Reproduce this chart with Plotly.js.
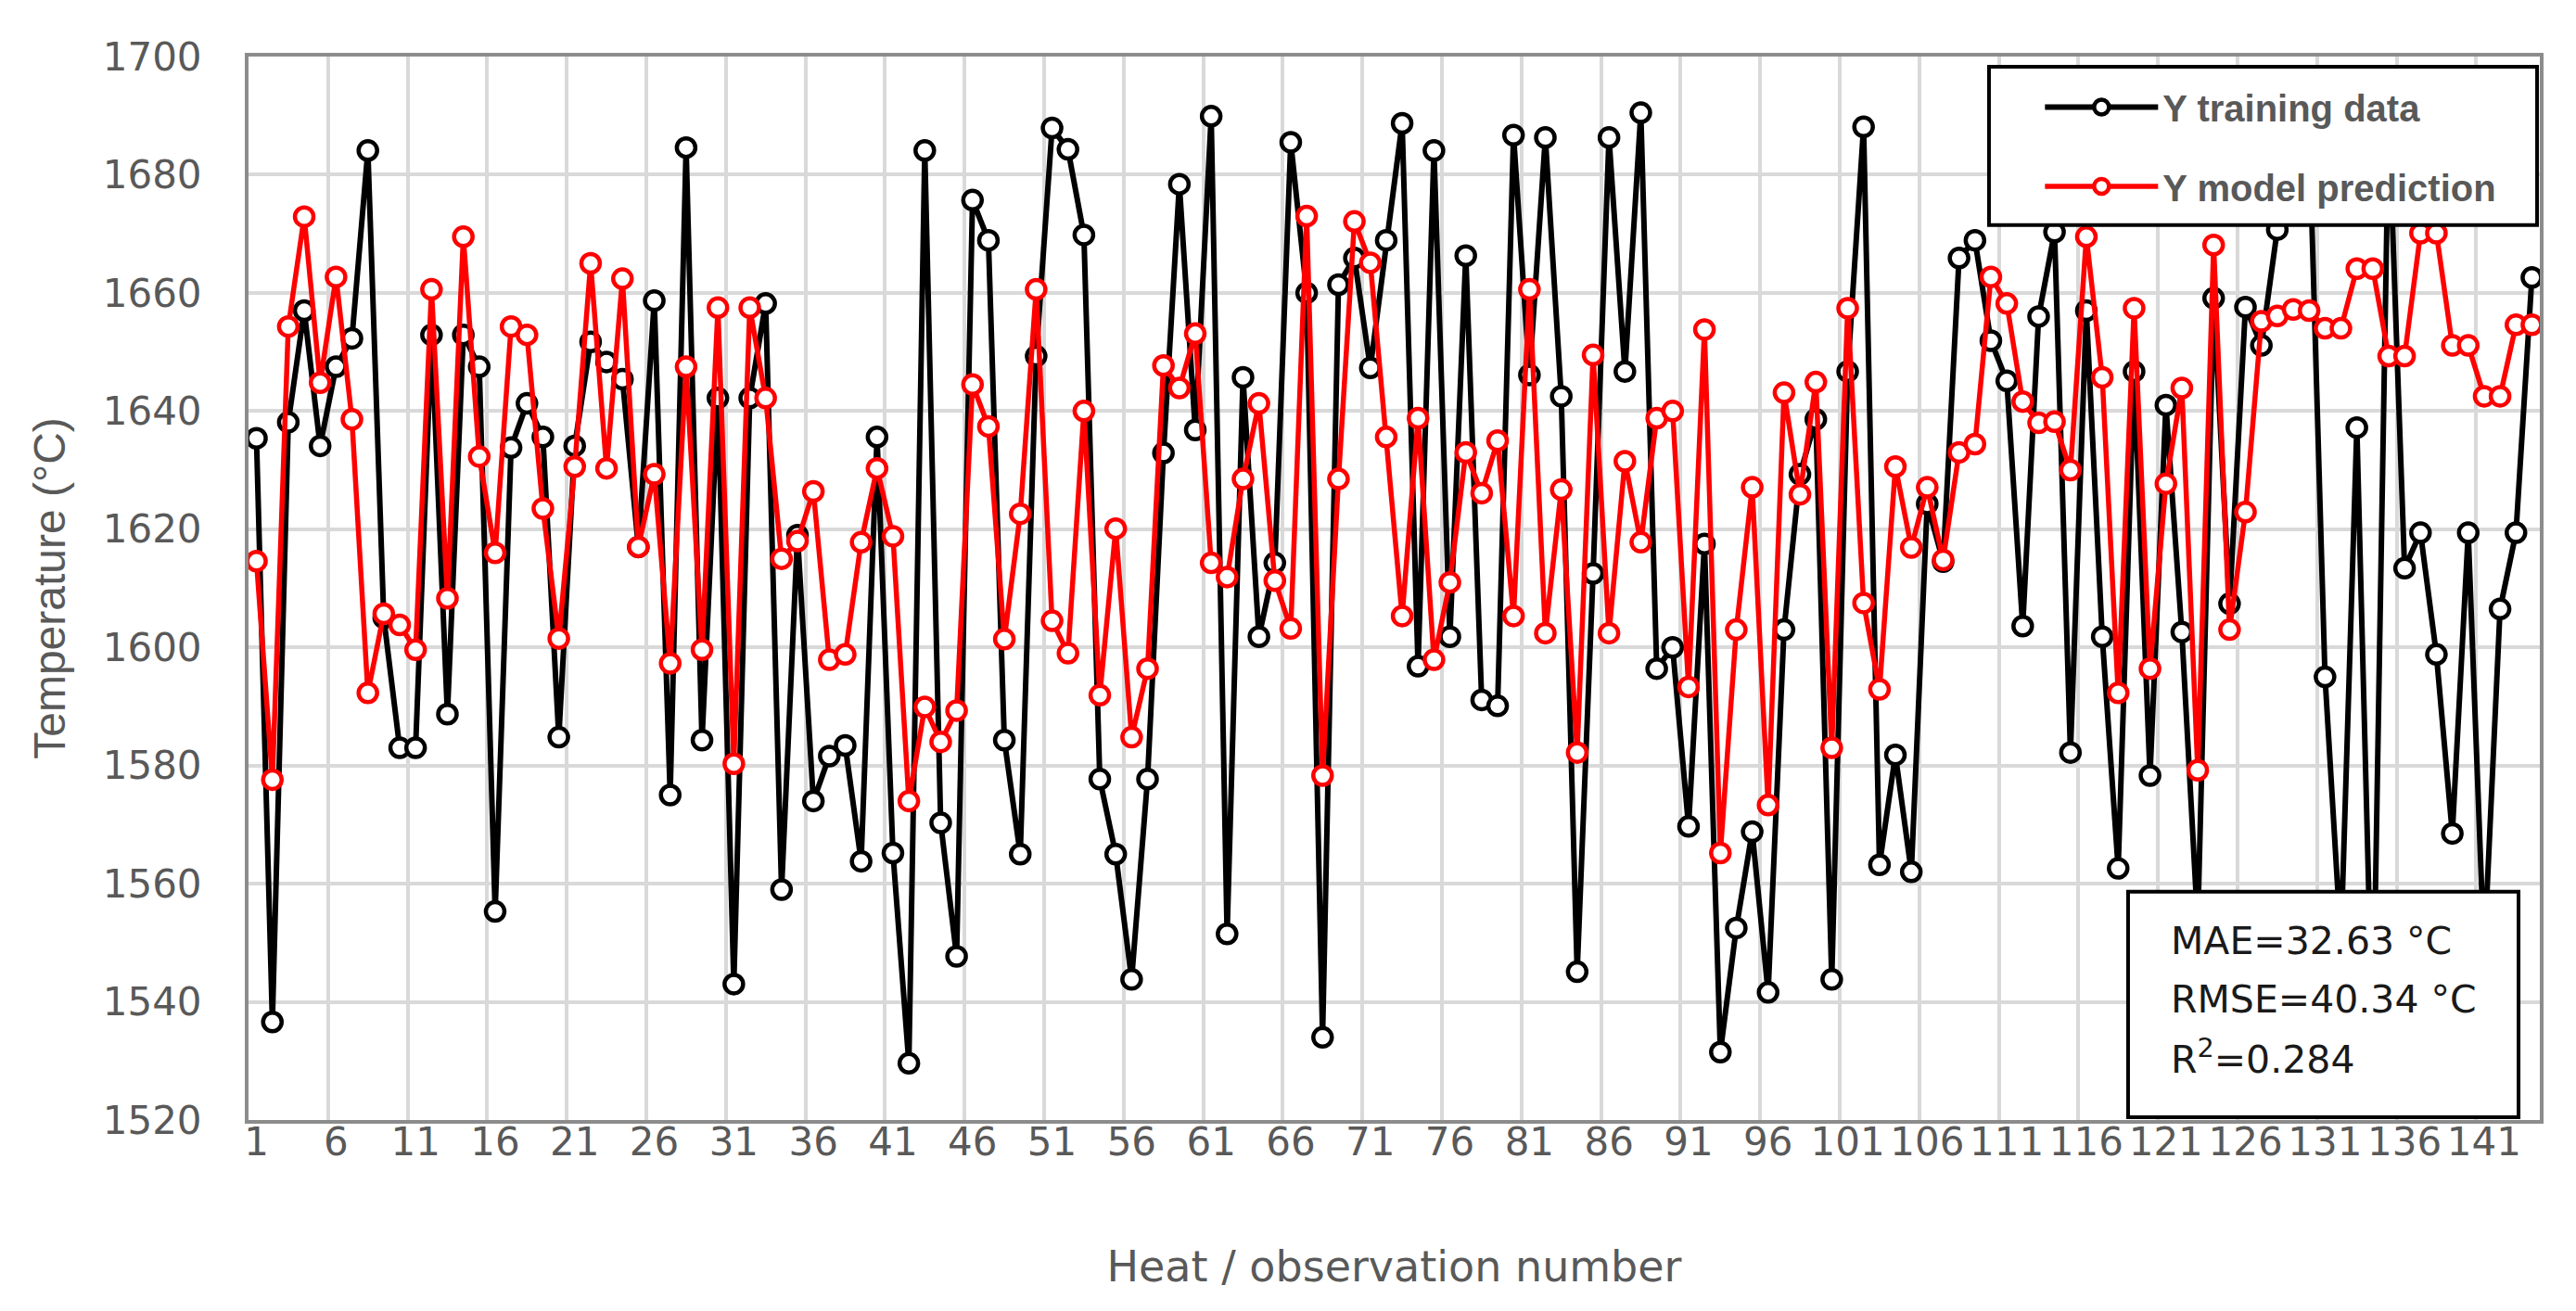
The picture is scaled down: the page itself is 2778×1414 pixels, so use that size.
<!DOCTYPE html>
<html>
<head>
<meta charset="utf-8">
<script src="https://cdn.plot.ly/plotly-3.0.1.min.js"></script>
<style>
  html, body { margin: 0; padding: 0; background: #fff; }
  #chart { width: 2778px; height: 1414px; }
</style>
</head>
<body>
<div id="chart"></div>
<script>
// heat / observation number 1..144
const heats = Array.from({ length: 144 }, (_, i) => i + 1);

const yTraining = [
  1635.4, 1536.6, 1638.1, 1657.0, 1634.1, 1647.5, 1652.3, 1684.1, 1605.0, 1583.0,
  1583.0, 1652.9, 1588.7, 1652.9, 1647.5, 1555.3, 1633.8, 1641.3, 1635.6, 1584.8,
  1634.1, 1651.7, 1648.3, 1645.4, 1617.0, 1658.7, 1575.0, 1684.6, 1584.3, 1642.2,
  1543.0, 1642.2, 1658.2, 1559.0, 1619.0, 1574.0, 1581.6, 1583.4, 1563.8, 1635.6,
  1565.2, 1529.6, 1684.1, 1570.3, 1547.7, 1675.7, 1668.9, 1584.3, 1565.0, 1649.3,
  1687.9, 1684.3, 1669.8, 1577.7, 1565.0, 1543.8, 1577.7, 1632.9, 1678.4, 1636.8,
  1689.9, 1551.5, 1645.7, 1601.8, 1614.3, 1685.5, 1660.0, 1534.0, 1661.4, 1665.9,
  1647.3, 1668.9, 1688.7, 1596.8, 1684.1, 1601.8, 1666.3, 1591.1, 1590.1, 1686.7,
  1646.1, 1686.3, 1642.5, 1545.1, 1612.5, 1686.3, 1646.7, 1690.5, 1596.4, 1600.0,
  1569.7, 1617.5, 1531.5, 1552.5, 1568.8, 1541.6, 1603.0, 1629.3, 1638.6, 1543.8,
  1646.7, 1688.1, 1563.2, 1581.8, 1562.0, 1624.3, 1614.5, 1665.9, 1668.9, 1651.9,
  1645.1, 1603.6, 1656.0, 1670.3, 1582.2, 1657.0, 1601.8, 1562.6, 1646.7, 1578.3,
  1641.0, 1602.6, 1553.0, 1659.1, 1607.4, 1657.6, 1651.1, 1670.7, 1684.0, 1688.0,
  1595.0, 1550.0, 1637.2, 1532.0, 1690.0, 1613.4, 1619.4, 1598.8, 1568.5, 1619.4,
  1548.0, 1606.5, 1619.4, 1662.6
];

const yPrediction = [
  1614.6, 1577.6, 1654.3, 1672.9, 1644.8, 1662.7, 1638.6, 1592.3, 1605.7, 1603.8,
  1599.6, 1660.6, 1608.3, 1669.5, 1632.3, 1616.0, 1654.3, 1652.9, 1623.5, 1601.5,
  1630.6, 1665.0, 1630.3, 1662.4, 1617.0, 1629.3, 1597.3, 1647.5, 1599.6, 1657.5,
  1580.3, 1657.5, 1642.2, 1615.0, 1618.0, 1626.4, 1597.9, 1598.8, 1617.8, 1630.3,
  1618.8, 1574.0, 1589.9, 1584.0, 1589.3, 1644.5, 1637.4, 1601.4, 1622.6, 1660.6,
  1604.5, 1599.0, 1640.0, 1591.9, 1620.1, 1584.8, 1596.4, 1647.7, 1643.9, 1653.1,
  1614.3, 1611.9, 1628.5, 1641.3, 1611.3, 1603.2, 1673.0, 1578.3, 1628.5, 1672.1,
  1665.1, 1635.6, 1605.3, 1638.8, 1597.9, 1611.0, 1633.0, 1626.1, 1635.0, 1605.3,
  1660.6, 1602.4, 1626.7, 1582.2, 1649.5, 1602.4, 1631.5, 1617.8, 1638.8, 1640.0,
  1593.3, 1653.8, 1565.2, 1603.0, 1627.1, 1573.3, 1643.1, 1625.9, 1644.9, 1583.0,
  1657.4, 1607.5, 1592.9, 1630.6, 1616.9, 1627.1, 1614.8, 1633.0, 1634.4, 1662.7,
  1658.2, 1641.6, 1638.0, 1638.2, 1630.0, 1669.5, 1645.7, 1592.3, 1657.4, 1596.4,
  1627.7, 1643.9, 1579.2, 1668.1, 1603.0, 1622.9, 1655.2, 1656.1, 1657.2, 1657.0,
  1654.0, 1654.0, 1664.1, 1664.1, 1649.3, 1649.3, 1670.1, 1670.1, 1651.1, 1651.1,
  1642.5, 1642.5, 1654.6, 1654.6
];

const statLines = ["MAE=32.63 °C", "RMSE=40.34 °C", "R<sup>2</sup>=0.284"];

const tickFont = { family: "DejaVu Sans, Verdana, sans-serif", size: 42, color: "#595959" };
const legendFont = { family: "Liberation Sans, Arial, sans-serif", size: 40, color: "#595959", weight: "bold" };

const markerStyle = (color) => ({
  symbol: "circle",
  size: 20,
  color: "#ffffff",
  line: { color: color, width: 4.5 },
});

Plotly.newPlot(
  "chart",
  [
    {
      name: "<b>Y training data</b>",
      x: heats,
      y: yTraining,
      type: "scatter",
      mode: "lines+markers",
      line: { color: "#000000", width: 6 },
      marker: markerStyle("#000000"),
      legend: "legend",
    },
    {
      name: "<b>Y model prediction</b>",
      x: heats,
      y: yPrediction,
      type: "scatter",
      mode: "lines+markers",
      line: { color: "#ff0000", width: 5.5 },
      marker: markerStyle("#ff0000"),
      legend: "legend2",
    },
  ],
  {
    width: 2778,
    height: 1414,
    margin: { l: 268, r: 39, t: 61, b: 206 },
    paper_bgcolor: "#ffffff",
    plot_bgcolor: "#ffffff",
    showlegend: true,
    xaxis: {
      range: [0.5, 144.5],
      tick0: 1,
      dtick: 5,
      tickangle: 0,
      ticks: "",
      ticklen: 0,
      ticklabelstandoff: -16,
      showgrid: false,
      zeroline: false,
      showline: true,
      mirror: true,
      linecolor: "#8c8c8c",
      linewidth: 4,
      tickfont: tickFont,
      minor: { tick0: 0.5, dtick: 5, showgrid: true, gridcolor: "#d9d9d9", gridwidth: 4 },
      title: {
        text: "Heat / observation number",
        font: { family: "DejaVu Sans, Verdana, sans-serif", size: 46, color: "#595959" },
        standoff: 95,
      },
    },
    yaxis: {
      range: [1520, 1700],
      dtick: 20,
      ticks: "",
      ticklen: 0,
      showgrid: true,
      gridcolor: "#d9d9d9",
      gridwidth: 4,
      zeroline: false,
      showline: true,
      mirror: true,
      linecolor: "#8c8c8c",
      linewidth: 4,
      tickfont: tickFont,
      ticklabelstandoff: 38,
      title: {
        text: "Temperature (°C)",
        font: { family: "Liberation Sans Narrow, Arial Narrow, Liberation Sans, sans-serif", size: 48, color: "#595959" },
        standoff: 26,
      },
    },
    legend: {
      x: 0.782,
      y: 0.9525,
      xanchor: "left",
      yanchor: "middle",
      bgcolor: "rgba(0,0,0,0)",
      font: legendFont,
      itemwidth: 122,
    },
    legend2: {
      x: 0.782,
      y: 0.878,
      xanchor: "left",
      yanchor: "middle",
      bgcolor: "rgba(0,0,0,0)",
      font: legendFont,
      itemwidth: 122,
    },
    shapes: [
      {
        type: "rect", xref: "paper", yref: "paper", layer: "above",
        x0: 0.7596, x1: 0.9988, y0: 0.8415, y1: 0.9904,
        fillcolor: "#ffffff", line: { color: "#000000", width: 4 },
      },
      {
        type: "rect", xref: "paper", yref: "paper", layer: "above",
        x0: 0.8203, x1: 0.9907, y0: 0.0026, y1: 0.2147,
        fillcolor: "#ffffff", line: { color: "#000000", width: 4 },
      },
    ],
    annotations: statLines.map((t, i) => ({
      text: t,
      xref: "paper",
      yref: "paper",
      x: 0.8381,
      y: [0.1684, 0.1134, 0.0593][i],
      xanchor: "left",
      yanchor: "middle",
      showarrow: false,
      font: { family: "DejaVu Sans, Verdana, sans-serif", size: 41, color: "#1a1a1a" },
    })),
  },
  { displayModeBar: false, staticPlot: true }
);
</script>
</body>
</html>
